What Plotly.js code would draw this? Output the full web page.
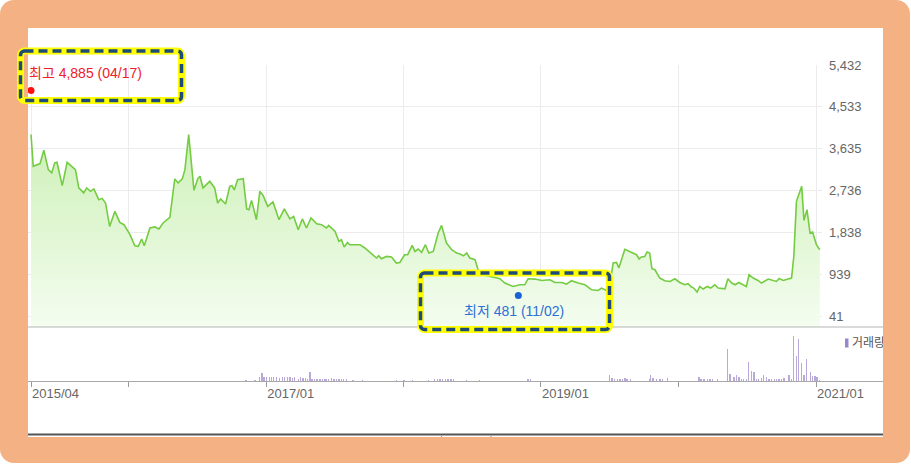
<!DOCTYPE html>
<html>
<head>
<meta charset="utf-8">
<script src="https://cdn.plot.ly/plotly-3.0.1.min.js"></script>
<style>
  html, body { margin:0; padding:0; background:#ffffff; }
  #frame { position:absolute; left:0; top:0; width:910px; height:463px; background:#f3b184; border-radius:14px; }
  #white { position:absolute; left:28px; top:28px; width:855px; height:409px; background:#ffffff; overflow:hidden; }
  #chart { position:absolute; left:0; top:0; width:855px; height:409px; }
  #marks { position:absolute; left:0; top:0; pointer-events:none; }
</style>
</head>
<body>
<div id="frame"></div>
<div id="white"><div id="chart"></div></div>
<svg id="marks" width="911" height="465">
  <rect x="20.5" y="51" width="161" height="49.5" rx="4" fill="none" stroke="#ffff00" stroke-width="7"/>
  <rect x="20.5" y="51" width="161" height="49.5" rx="4" fill="none" stroke="#1f4b78" stroke-width="3.5" stroke-dasharray="9 5"/>
  <rect x="420.5" y="273" width="189" height="56.5" rx="4" fill="none" stroke="#ffff00" stroke-width="7"/>
  <rect x="420.5" y="273" width="189" height="56.5" rx="4" fill="none" stroke="#1f4b78" stroke-width="3.5" stroke-dasharray="9 5"/>
</svg>
<script>
// ---- data ----
const priceDates = ['2015-04-17','2015-04-23','2015-05-11','2015-05-21','2015-06-02','2015-06-11','2015-06-19','2015-06-25','2015-07-09','2015-07-22','2015-08-03','2015-08-13','2015-08-22','2015-09-04','2015-09-12','2015-09-22','2015-10-01','2015-10-14','2015-10-23','2015-11-01','2015-11-12','2015-11-26','2015-12-09','2015-12-20',
'2016-01-05','2016-01-18','2016-01-27','2016-02-05','2016-02-12','2016-02-27','2016-03-11','2016-03-22','2016-04-02','2016-04-20','2016-05-03','2016-05-12','2016-05-23','2016-05-30','2016-06-09','2016-06-23','2016-07-03','2016-07-09','2016-07-17','2016-08-04','2016-08-17','2016-08-25','2016-09-02','2016-09-15','2016-09-26','2016-10-02','2016-10-08','2016-10-17','2016-11-01','2016-11-10','2016-11-16','2016-11-23','2016-12-06','2016-12-15','2016-12-24',
'2017-01-05','2017-01-19','2017-02-04','2017-02-18','2017-03-05','2017-03-15','2017-03-27','2017-04-07','2017-04-18','2017-04-30','2017-05-15','2017-05-28','2017-06-10','2017-06-16','2017-07-03','2017-07-13','2017-07-20','2017-07-27','2017-08-05','2017-08-11','2017-09-07','2017-09-20','2017-10-12','2017-10-21','2017-10-27','2017-11-03','2017-11-17','2017-11-30','2017-12-13','2017-12-22',
'2018-01-04','2018-01-12','2018-01-24','2018-01-31','2018-02-09','2018-02-18','2018-02-28','2018-03-09','2018-03-21','2018-04-03','2018-04-12','2018-04-25','2018-05-09','2018-05-22','2018-05-31','2018-06-09','2018-06-18','2018-06-26','2018-07-10','2018-07-18','2018-07-31','2018-08-23','2018-09-14','2018-09-27','2018-10-19','2018-11-06','2018-11-19','2018-11-28','2018-12-16',
'2019-01-03','2019-01-25','2019-02-07','2019-02-25','2019-03-10','2019-03-23','2019-04-10','2019-04-28','2019-05-16','2019-06-02','2019-06-11','2019-06-24','2019-07-03','2019-07-12','2019-07-21','2019-07-27','2019-08-12','2019-08-21','2019-09-03','2019-09-12','2019-09-19','2019-09-25','2019-10-04','2019-10-10','2019-10-17','2019-10-23','2019-10-31','2019-11-13','2019-11-26','2019-12-10','2019-12-23',
'2020-01-05','2020-01-18','2020-01-27','2020-02-05','2020-02-11','2020-02-20','2020-02-27','2020-03-07','2020-03-18','2020-03-27','2020-04-07','2020-04-16','2020-05-04','2020-05-12','2020-05-22','2020-05-31','2020-06-10','2020-06-21','2020-06-30','2020-07-07','2020-07-18','2020-07-31','2020-08-09','2020-08-27','2020-09-09','2020-09-18','2020-09-25','2020-10-06','2020-10-19','2020-10-28','2020-11-03','2020-11-10','2020-11-24','2020-11-30','2020-12-08','2020-12-16','2020-12-23','2021-01-02','2021-01-11'];
const priceValues = [3939,3257,3315,3601,3186,3116,3331,3343,2842,3343,3257,3186,2793,2686,2793,2720,2772,2541,2569,2470,1967,2290,2053,2004,
1789,1552,1537,1696,1552,1933,1955,1911,2040,2161,2987,2900,2987,3186,3939,2741,2987,3043,2793,2935,2793,2470,2556,2449,2827,2842,2750,2971,2993,2342,2326,2526,2111,2720,2627,
2397,2492,2111,2342,2127,2182,1896,2127,1933,2148,2025,2004,1933,1989,1860,1645,1681,1525,1623,1574,1574,1503,1359,1288,1337,1273,1322,1310,1180,1193,
1359,1359,1559,1430,1481,1408,1574,1395,1430,1826,1989,1610,1466,1395,1374,1337,1395,1288,1251,1036,929,892,843,750,677,714,714,843,836,
806,821,763,763,729,800,750,714,606,591,643,591,714,1180,1193,1073,1475,1445,1395,1359,1266,1310,1322,1417,1395,1058,1036,858,800,785,843,
763,714,736,664,643,557,677,622,677,643,714,643,628,843,750,714,763,714,677,929,858,806,750,836,806,785,850,806,836,858,1322,2505,2827,2096,2326,1826,1847,1574,1466];

const volumeDates = ['2016-11-08','2016-12-02','2016-12-15','2016-12-21','2016-12-26','2017-01-02','2017-01-09','2017-01-15','2017-01-21','2017-01-28','2017-02-06','2017-02-13','2017-02-19','2017-02-26','2017-03-05','2017-03-11','2017-03-18','2017-03-27','2017-04-02','2017-04-09','2017-04-16','2017-04-20','2017-04-27','2017-05-03','2017-05-10','2017-05-16','2017-05-24','2017-05-30','2017-06-06','2017-06-10','2017-06-16','2017-06-24','2017-06-30','2017-07-07','2017-07-13','2017-07-20','2017-07-26','2017-08-02','2017-08-20','2017-09-14','2017-12-13',
'2018-01-02','2018-01-25','2018-03-09','2018-03-25','2018-04-01','2018-04-08','2018-04-15','2018-04-22','2018-04-29','2018-05-07','2018-05-13','2018-06-18','2018-07-21','2018-11-28','2018-12-05',
'2019-07-03','2019-07-09','2019-07-16','2019-07-23','2019-07-30','2019-08-05','2019-08-12','2019-08-18','2019-08-27','2019-10-16','2019-10-20','2019-10-26','2019-11-04','2019-11-13','2019-11-20','2019-12-03',
'2020-02-25','2020-03-01','2020-03-09','2020-03-18','2020-03-25','2020-04-01','2020-04-14','2020-05-10','2020-05-17','2020-05-28','2020-06-04','2020-06-10','2020-06-17','2020-06-23','2020-06-30','2020-07-06','2020-07-13','2020-07-20','2020-07-27','2020-08-02','2020-08-09','2020-08-15','2020-08-22','2020-08-29','2020-09-05','2020-09-12','2020-09-18','2020-09-25','2020-10-01','2020-10-08','2020-10-21','2020-10-28','2020-11-03','2020-11-10','2020-11-16','2020-11-24','2020-11-30','2020-12-07','2020-12-17','2020-12-23','2020-12-29','2021-01-04','2021-01-11'];
const volumeValues = [100,100,450,800,400,450,450,400,400,400,300,400,400,400,400,300,400,200,400,300,300,200,900,200,200,200,200,200,200,250,250,300,250,250,200,200,200,200,150,150,100,
150,150,150,200,200,200,200,200,200,200,200,150,150,200,200,
630,300,170,170,170,170,300,170,170,170,570,300,170,170,170,300,
400,170,170,170,170,170,170,3170,730,400,630,400,170,170,170,1900,1000,900,170,170,300,570,400,170,170,170,170,170,170,300,630,230,4500,2500,4170,1830,630,2230,900,500,470,400,130];

const gridDates = ['2015-04-17','2016-01-01','2017-01-01','2018-01-01','2019-01-01','2020-01-01','2021-01-01'];
const tickLabels = ['2015/04','','2017/01','','2019/01','','2021/01'];
const priceTicks = [41, 939, 1838, 2736, 3635, 4533, 5432];

const highPoint = { date:'2015-04-17', value:4885, label:'최고 4,885 (04/17)' };
const lowPoint  = { date:'2018-11-02', value:481,  label:'최저 481 (11/02)' };
const volumeName = '거래량';

// ---- layout constants ----
const FONT = '"Liberation Sans", Arial, "Noto Sans CJK KR", sans-serif';
const volTop = 54/316;
const priceMin = -192.7, priceMax = 5432;
const DAY = 86400000;

const traces = [
  { x: priceDates, y: priceDates.map(() => priceMin), xaxis:'x', yaxis:'y', type:'scatter', mode:'lines',
    line:{width:0, color:'rgba(0,0,0,0)'}, hoverinfo:'skip' },
  { x: priceDates, y: priceValues, xaxis:'x', yaxis:'y', type:'scatter', mode:'lines',
    line:{color:'#74cc42', width:1.6}, fill:'tonexty',
    fillgradient:{type:'vertical', start:priceMin, stop:4000,
      colorscale:[[0,'rgba(244,253,240,1)'],[1,'rgba(205,240,183,1)']]} },
  { x:[highPoint.date], y:[highPoint.value], xaxis:'x', yaxis:'y', type:'scatter', mode:'markers',
    marker:{color:'#ff1010', size:7} },
  { x:[lowPoint.date], y:[lowPoint.value], xaxis:'x', yaxis:'y', type:'scatter', mode:'markers',
    marker:{color:'#1a62d8', size:7} },
  { x: volumeDates, y: volumeValues, xaxis:'x2', yaxis:'y2', type:'bar', name: volumeName,
    width: 3.5*DAY, marker:{color:'rgba(160,140,205,0.75)', line:{width:0}} }
];

const layout = {
  width:855, height:409,
  margin:{l:0, r:0, t:37, b:56, pad:0},
  paper_bgcolor:'rgba(0,0,0,0)', plot_bgcolor:'rgba(0,0,0,0)',
  showlegend:false, hovermode:false, bargap:0,
  font:{family:FONT, size:13, color:'#666'},
  xaxis:{ domain:[0, 794/855], type:'date', range:['2015-04-09','2021-01-16 22:00'], anchor:'y',
    tickvals:gridDates, showticklabels:false, ticks:'', showgrid:true, gridcolor:'#ececec', gridwidth:1,
    zeroline:false, showline:false, fixedrange:true },
  yaxis:{ domain:[volTop,1], range:[priceMin, priceMax], anchor:'x', side:'right',
    tickvals:priceTicks, tickformat:',d', ticks:'', ticklabelstandoff:6,
    tickfont:{family:FONT, size:13, color:'#666'},
    showgrid:true, gridcolor:'#ececec', gridwidth:1, zeroline:false, showline:false, fixedrange:true },
  xaxis2:{ domain:[0,1], type:'date', range:['2015-04-09','2021-06-28'], anchor:'y2',
    tickvals:gridDates, ticktext:tickLabels, ticks:'outside', ticklen:5, tickcolor:'#9a9a9a', tickwidth:1,
    ticklabelposition:'outside right', tickfont:{family:FONT, size:13, color:'#666'},
    showgrid:false, showline:true, linecolor:'#a8a8a8', linewidth:1, zeroline:false, fixedrange:true },
  yaxis2:{ domain:[0,volTop], range:[0,5400], anchor:'x2', showticklabels:false, showgrid:false,
    zeroline:false, showline:false, ticks:'', fixedrange:true },
  shapes:[
    { type:'line', xref:'paper', yref:'paper', x0:0, x1:1, y0:volTop, y1:volTop, line:{color:'#b5b5b5', width:1} },
    { type:'rect', xref:'paper', yref:'paper', x0:817/855, x1:820.5/855, y0:0.1060, y1:0.1345,
      fillcolor:'#9a86cc', line:{width:0} },
    { type:'line', xref:'paper', yref:'paper', x0:0, x1:1, y0:-0.1693, y1:-0.1693, line:{color:'#555555', width:2} },
    { type:'line', xref:'paper', yref:'paper', x0:413.5/855, x1:413.5/855, y0:-0.1725, y1:-0.178, line:{color:'#999', width:1} },
    { type:'line', xref:'paper', yref:'paper', x0:463/855, x1:463/855, y0:-0.1725, y1:-0.178, line:{color:'#999', width:1} }
  ],
  annotations:[
    { text: highPoint.label, xref:'paper', yref:'paper', x:0, y:0.9747, xanchor:'left', yanchor:'middle',
      showarrow:false, font:{family:FONT, size:14, color:'#f0202a'}, borderpad:0 },
    { text: lowPoint.label, xref:'paper', yref:'paper', x:0.5690, y:0.2215, xanchor:'center', yanchor:'middle',
      showarrow:false, font:{family:FONT, size:14, color:'#2c6fd6'}, borderpad:0 },
    { text: volumeName, xref:'paper', yref:'paper', x:823/855, y:0.1203, xanchor:'left', yanchor:'middle',
      showarrow:false, font:{family:FONT, size:12, color:'#555'}, borderpad:0 }
  ]
};

Plotly.newPlot('chart', traces, layout, {staticPlot:true, displayModeBar:false});
</script>
</body>
</html>
